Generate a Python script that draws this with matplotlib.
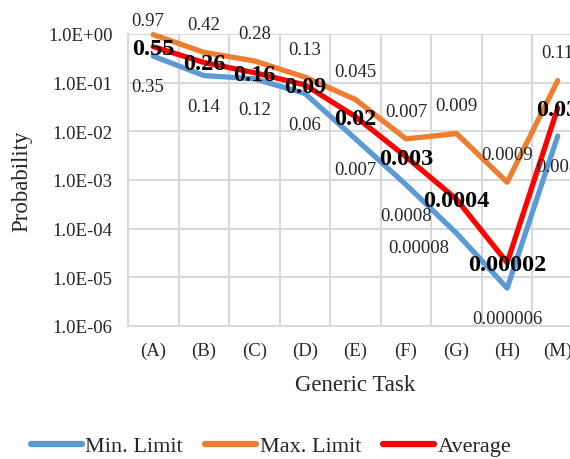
import matplotlib
matplotlib.use("Agg")
import matplotlib.pyplot as plt
from matplotlib.ticker import FixedLocator, NullFormatter

plt.rcParams['font.family'] = ['Liberation Serif', 'DejaVu Serif']

categories = ["(A)", "(B)", "(C)", "(D)", "(E)", "(F)", "(G)", "(H)", "(M)"]
min_limit = [0.35, 0.14, 0.12, 0.06, 0.007, 0.0008, 0.00008, 0.000006, 0.008]
max_limit = [0.97, 0.42, 0.28, 0.13, 0.045, 0.007, 0.009, 0.0009, 0.11]
average = [0.55, 0.26, 0.16, 0.09, 0.02, 0.003, 0.0004, 0.00002, 0.03]
min_labels = ["0.35", "0.14", "0.12", "0.06", "0.007", "0.0008", "0.00008", "0.000006", "0.008"]
max_labels = ["0.97", "0.42", "0.28", "0.13", "0.045", "0.007", "0.009", "0.0009", "0.11"]
avg_labels = ["0.55", "0.26", "0.16", "0.09", "0.02", "0.003", "0.0004", "0.00002", "0.03"]
yticks = [1e-6, 1e-5, 1e-4, 1e-3, 1e-2, 1e-1, 1e0]
ytick_labels = ["1.0E-06", "1.0E-05", "1.0E-04", "1.0E-03", "1.0E-02", "1.0E-01", "1.0E+00"]

fig = plt.figure(figsize=(5.7, 4.6), dpi=100)
ax = fig.add_axes([128/570, 1-327/460, (583-128)/570, (327-35)/460])
ax.set_yscale('log')
ax.set_ylim(1e-6, 1.0)
x = list(range(len(categories)))
ax.set_xlim(-0.5, len(categories) - 0.5)

grid_c = '#D9D9D9'
ax.set_xticks(x)
ax.set_xticklabels(categories)
ax.xaxis.set_minor_locator(FixedLocator([i - 0.5 for i in range(len(categories) + 1)]))
ax.set_yticks(yticks)
ax.set_yticklabels(ytick_labels)
ax.yaxis.set_minor_locator(FixedLocator([]))
ax.yaxis.set_minor_formatter(NullFormatter())
ax.grid(True, which='minor', axis='x', color=grid_c, lw=1.5)
ax.grid(True, which='major', axis='y', color=grid_c, lw=1.5)
ax.set_axisbelow(True)
for s in ['top', 'right']:
    ax.spines[s].set_visible(False)
for s in ['left', 'bottom']:
    ax.spines[s].set_color(grid_c)
    ax.spines[s].set_linewidth(1.5)
ax.tick_params(axis='both', which='both', length=0, labelsize=13.5, colors='#262626')
ax.tick_params(axis='x', pad=11)
ax.tick_params(axis='y', pad=11)

lw = 3.8
ax.plot(x, min_limit, color='#5B9BD5', lw=lw, solid_capstyle='round', solid_joinstyle='round', label='Min. Limit', zorder=3, clip_on=False)
ax.plot(x, max_limit, color='#ED7D31', lw=lw, solid_capstyle='round', solid_joinstyle='round', label='Max. Limit', zorder=3, clip_on=False)
ax.plot(x, average, color='#FF0000', lw=lw, solid_capstyle='round', solid_joinstyle='round', label='Average', zorder=4, clip_on=False)

txt_c = '#262626'
for i in x:
    dx, dy = 0, 20
    if i == 0:
        dx, dy = -4, 10
    ax.annotate(max_labels[i], (i, max_limit[i]), xytext=(dx, dy), textcoords='offset points',
                ha='center', va='center', fontsize=13.5, color=txt_c, zorder=5, annotation_clip=False)
    dx, dy = 0, -22
    if i == 0:
        dx = -4
    if i == 6:
        dx, dy = -27, -10
    ax.annotate(min_labels[i], (i, min_limit[i]), xytext=(dx, dy), textcoords='offset points',
                ha='center', va='center', fontsize=13.5, color=txt_c, zorder=5, annotation_clip=False)
    ax.annotate(avg_labels[i], (i, average[i]), xytext=(0, -1), textcoords='offset points',
                ha='center', va='center', fontsize=17.5, fontweight='bold', color='black', zorder=6,
                annotation_clip=False)

ax.set_xlabel('Generic Task', fontsize=16.5, color=txt_c, labelpad=11)
fig.text(22/570, 1-181/460, 'Probability', rotation=90, ha='center', va='center', fontsize=16.5, color=txt_c)

leg = fig.legend(loc='center', bbox_to_anchor=(271/570, 1-447/460), ncol=3, frameon=False,
                 fontsize=16, handlelength=2.3, handletextpad=0.15, columnspacing=1.0,
                 labelcolor=txt_c)
for h in leg.get_lines():
    h.set_linewidth(4.5)
    h.set_solid_capstyle('round')

fig.savefig('out.png', dpi=100)
